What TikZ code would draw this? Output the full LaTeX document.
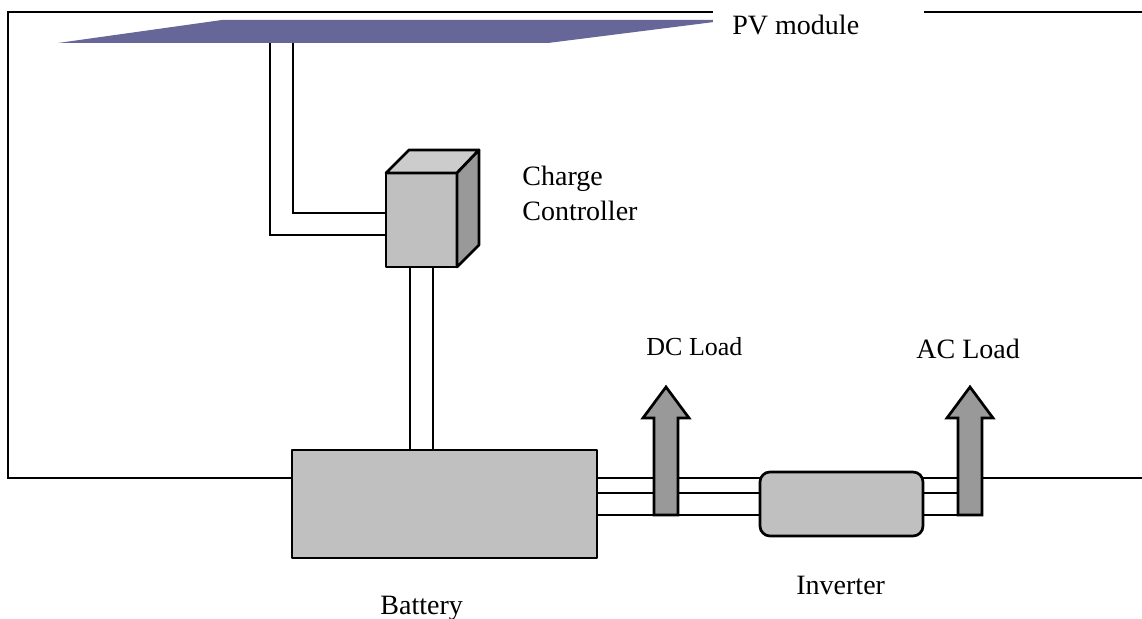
\documentclass[tikz,border=0pt]{standalone}
\usepackage{fontspec}
\setmainfont{Liberation Serif}
\usepackage{tikz}
\definecolor{panelblue}{HTML}{666699}
\definecolor{boxgray}{HTML}{C0C0C0}
\definecolor{topgray}{HTML}{CCCCCC}
\definecolor{sidegray}{HTML}{999999}
\tikzset{
  wire/.style={line width=1.35pt,black},
  label/.style={inner sep=0pt,anchor=base west,font=\fontsize{14}{14}\selectfont},
  boxpart/.style={draw=black,line width=1.35pt,line join=round,fill=boxgray,inner sep=0pt,outer sep=0pt}
}
\begin{document}
\begin{tikzpicture}[x=0.5pt,y=-0.5pt]
  \useasboundingbox (0,0) rectangle (1142,619);
  % boxes
  \node[boxpart,minimum width=152.5pt,minimum height=54pt] (battery) at (444.5,504) {};
  \node[boxpart,minimum width=81.5pt,minimum height=32pt,rounded corners=5pt] (inverter) at (841.5,504) {};
  \node[boxpart,minimum width=35.5pt,minimum height=47pt] (controller) at (421.5,220) {};
  % free ends
  \coordinate (frameTL) at (8,12);
  \coordinate (frameBL) at (8,478);
  \coordinate (frameEnd) at (1142,478);
  \coordinate (frameTop) at (713,12);
  \coordinate (frameTopR) at (924,12);
  \coordinate (frameTopEnd) at (1142,12);
  \coordinate (wireA) at (270,43);
  \coordinate (wireB) at (293,43);
  \coordinate (bodyA) at (270,235);
  \coordinate (bodyB) at (293,213);
  \coordinate (linkA) at (410,0);
  \coordinate (linkB) at (433,0);
  \coordinate (midrow) at (0,493);
  \coordinate (lowrow) at (0,515);
  \coordinate (dcstem) at (666,515);
  \coordinate (acstem) at (970,515);
  % frame
  \draw[wire] (frameBL -| battery.west) -- (frameBL) -- (frameTL) -- (frameTop);
  \draw[wire] (frameTopR) -- (frameTopEnd);
  \draw[wire] (acstem |- frameBL) -- (frameEnd);
  % panel
  \fill[panelblue] (58,43)--(222,20)--(730,20)--(548,43)--cycle;
  \node[fill=white,inner sep=0pt,minimum width=105.5pt,minimum height=21pt,anchor=north west] (pvbox) at (713,2) {};
  \node[label] (pv) at (732,35) {PV module};
  % wires to the controller
  \draw[wire] (wireA) -- (bodyA) -- (bodyA -| controller.west);
  \draw[wire] (wireB) -- (bodyB) -- (bodyB -| controller.west);
  \draw[wire] (linkA |- controller.south) -- (linkA |- battery.north);
  \draw[wire] (linkB |- controller.south) -- (linkB |- battery.north);
  % wires to the inverter
  \draw[wire] (battery.east |- frameBL) -- (inverter.west |- frameBL);
  \draw[wire] (battery.east |- midrow) -- (inverter.west |- midrow);
  \draw[wire] (battery.east |- lowrow) -- (inverter.west |- lowrow);
  \draw[wire] (inverter.east |- frameBL) -- (acstem |- frameBL);
  \draw[wire] (inverter.east |- midrow) -- (acstem |- midrow);
  \draw[wire] (inverter.east |- lowrow) -- (acstem);
  % cube
  \draw[boxpart,fill=topgray] (controller.north west) -- (409,150) -- (479,150) -- (controller.north east) -- cycle;
  \draw[boxpart,fill=sidegray] (controller.north east) -- (479,150) -- (479,245) -- (controller.south east) -- cycle;
  % arrows
  \foreach \n in {dcstem,acstem}
    \draw[boxpart,fill=sidegray,line join=miter] (\n) ++(-12,0) -- ++(0,-97) -- ++(-11,0) -- ++(23,-31) -- ++(23,31) -- ++(-11,0) -- ++(0,97) -- cycle;
  % labels
  \node[label] (charge) at (522,186) {Charge};
  \node[label] (ctrl) at (522,221) {Controller};
  \node[label,font=\fontsize{13}{13}\selectfont] (dc) at (646,356) {DC Load};
  \node[label] (ac) at (916,359) {AC Load};
  \node[label] (inv) at (796,595) {Inverter};
  \node[label] (bat) at (380,615) {Battery};
\end{tikzpicture}
\end{document}
